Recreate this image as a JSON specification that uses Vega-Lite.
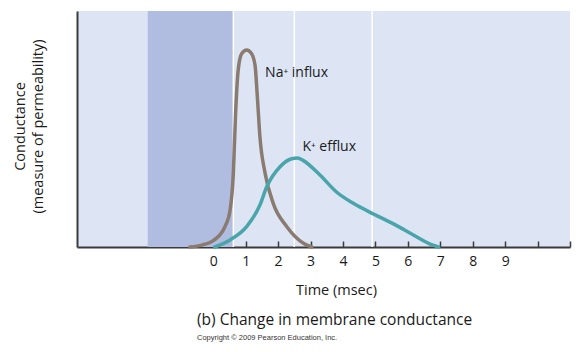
{
  "$schema": "https://vega.github.io/schema/vega-lite/v6.json",
  "width": 493,
  "height": 236,
  "autosize": {"type": "none"},
  "padding": {"left": 77, "top": 11, "right": 12, "bottom": 105},
  "background": "white",
  "config": {
    "view": {"fill": "#dde5f5", "stroke": null},
    "font": "Open Sans",
    "axis": {"grid": false},
    "axisX": {
      "domainColor": "#3a3a3a",
      "domainWidth": 2,
      "tickColor": "#3a3a3a",
      "tickWidth": 1.5,
      "tickSize": -6,
      "labelFontSize": 14,
      "labelColor": "#1a1a1a",
      "labelPadding": 13,
      "labelFlush": false,
      "titleFontSize": 14.5,
      "titleFontWeight": "normal",
      "titleColor": "#1a1a1a",
      "titleX": 259,
      "titlePadding": 15
    },
    "axisY": {
      "ticks": false,
      "labels": false,
      "domainColor": "#3a3a3a",
      "domainWidth": 2,
      "titleFontSize": 14.5,
      "titleFontWeight": "normal",
      "titleColor": "#1a1a1a",
      "titleAngle": -90,
      "titleAlign": "center",
      "titleBaseline": "middle",
      "titleX": -57,
      "titleY": 115,
      "titleLineHeight": 18
    }
  },
  "title": {
    "text": "(b) Change in membrane conductance",
    "orient": "bottom",
    "anchor": "start",
    "frame": "group",
    "dx": 120,
    "offset": 16,
    "fontSize": 15.5,
    "fontWeight": "normal",
    "color": "#1a1a1a",
    "subtitle": "Copyright © 2009 Pearson Education, Inc.",
    "subtitleFont": "Liberation Sans",
    "subtitleFontSize": 7.5,
    "subtitleColor": "#333",
    "subtitlePadding": 6
  },
  "datasets": {
    "band": [{"start": -2.02, "end": 0.61}],
    "lines": [{"t": 0.62}, {"t": 2.5}, {"t": 4.9}],
    "curves": [
      {"series": "Na", "t": -0.72, "g": 0},
      {"series": "Na", "t": -0.35, "g": 0.8},
      {"series": "Na", "t": 0.0, "g": 2.7},
      {"series": "Na", "t": 0.36, "g": 8.6},
      {"series": "Na", "t": 0.52, "g": 15.7},
      {"series": "Na", "t": 0.62, "g": 31.2},
      {"series": "Na", "t": 0.69, "g": 56.6},
      {"series": "Na", "t": 0.77, "g": 75},
      {"series": "Na", "t": 0.88, "g": 82},
      {"series": "Na", "t": 1.03, "g": 83.5},
      {"series": "Na", "t": 1.18, "g": 82},
      {"series": "Na", "t": 1.29, "g": 77},
      {"series": "Na", "t": 1.36, "g": 63.7},
      {"series": "Na", "t": 1.44, "g": 46.7},
      {"series": "Na", "t": 1.6, "g": 31.2},
      {"series": "Na", "t": 1.85, "g": 18.5},
      {"series": "Na", "t": 2.27, "g": 8.6},
      {"series": "Na", "t": 2.78, "g": 1.6},
      {"series": "Na", "t": 3.04, "g": 0},
      {"series": "K", "t": 0.05, "g": 0},
      {"series": "K", "t": 0.52, "g": 3},
      {"series": "K", "t": 1.03, "g": 8.6},
      {"series": "K", "t": 1.44, "g": 17.8},
      {"series": "K", "t": 1.65, "g": 25.5},
      {"series": "K", "t": 2.06, "g": 34},
      {"series": "K", "t": 2.42, "g": 37.4},
      {"series": "K", "t": 2.6, "g": 37.7},
      {"series": "K", "t": 2.78, "g": 36.6},
      {"series": "K", "t": 3.29, "g": 30.5},
      {"series": "K", "t": 3.81, "g": 23.2},
      {"series": "K", "t": 4.32, "g": 18.5},
      {"series": "K", "t": 4.94, "g": 14.0},
      {"series": "K", "t": 5.56, "g": 9.8},
      {"series": "K", "t": 6.17, "g": 5.1},
      {"series": "K", "t": 6.69, "g": 1.2},
      {"series": "K", "t": 6.95, "g": 0}
    ],
    "labels": [
      {"t": 1.6, "g": 72, "label": "Na⁺ influx"},
      {"t": 2.75, "g": 40.5, "label": "K⁺ efflux"}
    ]
  },
  "layer": [
    {
      "data": {"name": "band"},
      "mark": {"type": "rect", "color": "#b1bde0"},
      "encoding": {
        "x": {"field": "start", "type": "quantitative", "scale": {"domain": [-4.2, 11], "nice": false, "zero": false}, "title": "Time (msec)",
          "axis": {"values": [0, 1, 2, 3, 4, 5, 6, 7, 8, 9, 10, 11], "labelExpr": "datum.value <= 9 ? datum.label : ''"}},
        "x2": {"field": "end"}
      }
    },
    {
      "data": {"name": "lines"},
      "mark": {"type": "rule", "color": "white", "strokeWidth": 1.5},
      "encoding": {
        "x": {"field": "t", "type": "quantitative", "scale": {"domain": [-4.2, 11], "nice": false, "zero": false}, "title": "Time (msec)",
          "axis": {"values": [0, 1, 2, 3, 4, 5, 6, 7, 8, 9, 10, 11], "labelExpr": "datum.value <= 9 ? datum.label : ''"}}
      }
    },
    {
      "data": {"name": "curves"},
      "mark": {"type": "line", "interpolate": "monotone", "strokeWidth": 3.5, "strokeCap": "round"},
      "encoding": {
        "x": {"field": "t", "type": "quantitative", "scale": {"domain": [-4.2, 11], "nice": false, "zero": false}, "title": "Time (msec)",
          "axis": {"values": [0, 1, 2, 3, 4, 5, 6, 7, 8, 9, 10, 11], "labelExpr": "datum.value <= 9 ? datum.label : ''"}},
        "y": {"field": "g", "type": "quantitative", "scale": {"domain": [0, 100], "nice": false}, "title": ["Conductance", "(measure of permeability)"]},
        "color": {
          "field": "series",
          "type": "nominal",
          "scale": {"domain": ["Na", "K"], "range": ["#8a7b71", "#4aa5aa"]},
          "legend": null
        }
      }
    },
    {
      "data": {"name": "labels"},
      "mark": {"type": "text", "align": "left", "baseline": "alphabetic", "fontSize": 14, "color": "#1a1a1a"},
      "encoding": {
        "x": {"field": "t", "type": "quantitative", "scale": {"domain": [-4.2, 11], "nice": false, "zero": false}, "title": "Time (msec)",
          "axis": {"values": [0, 1, 2, 3, 4, 5, 6, 7, 8, 9, 10, 11], "labelExpr": "datum.value <= 9 ? datum.label : ''"}},
        "y": {"field": "g", "type": "quantitative", "scale": {"domain": [0, 100], "nice": false}, "title": ["Conductance", "(measure of permeability)"]},
        "text": {"field": "label"}
      }
    }
  ]
}
